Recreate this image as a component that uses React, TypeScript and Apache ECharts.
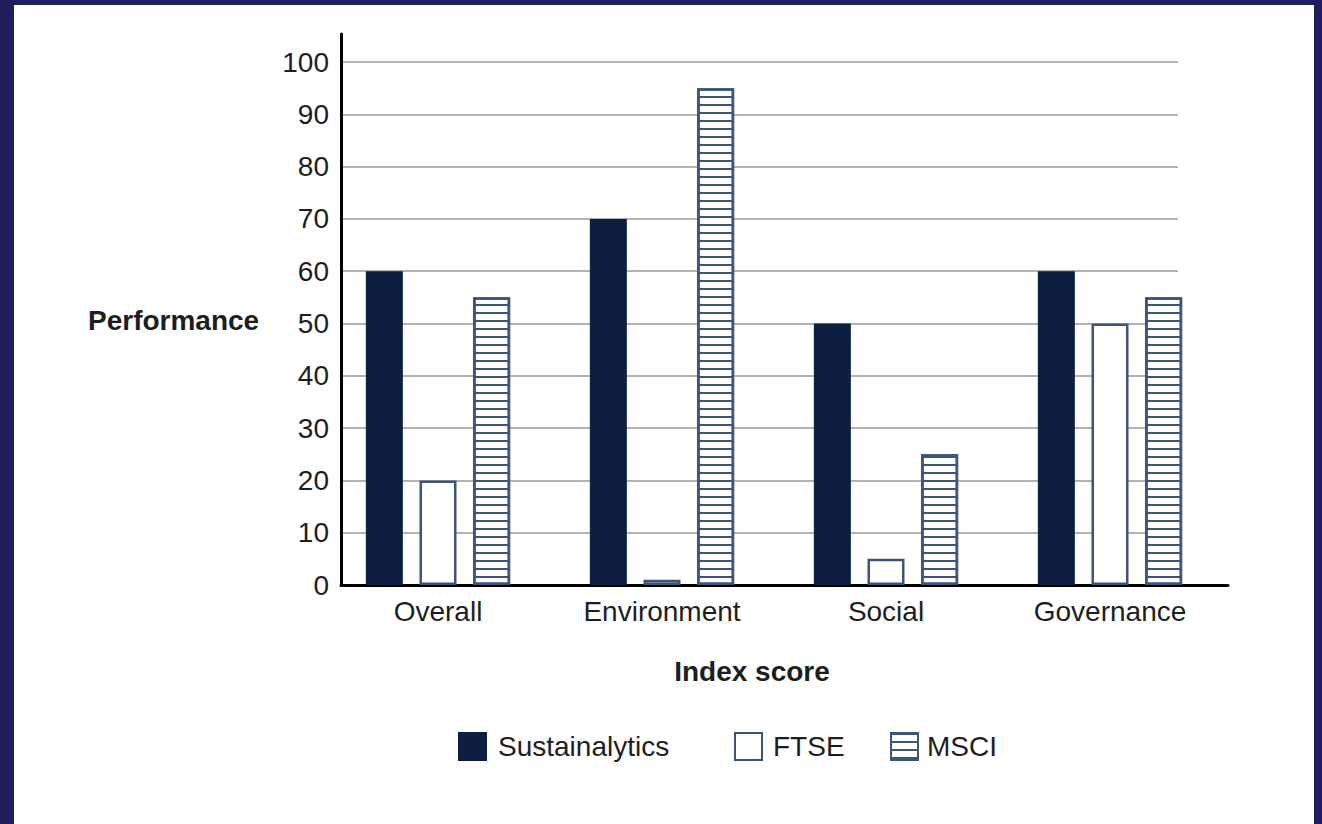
import React, { useEffect, useRef } from "react";
import * as echarts from "echarts";

const categories = ["Overall", "Environment", "Social", "Governance"];
const sustainalytics = [60, 70, 50, 60];
const ftse = [20, 1, 5, 50];
const msci = [55, 95, 25, 55];
const yMin = 0;
const yMax = 100;
const yInterval = 10;

const FONT = "'Liberation Sans', Arial, Helvetica, sans-serif";
const DARK = "#0c1e42";
const LINE = "#3c5478";
const TEXT = "#1e1e1e";

export default function App() {
  const ref = useRef<HTMLDivElement>(null);
  useEffect(() => {
    if (!ref.current) return;
    const chart = echarts.init(ref.current, undefined, { renderer: "svg" });
    const option: any = {
      animation: false,
      textStyle: { fontFamily: FONT },
      grid: [
        { left: 326, top: 62, width: 896, height: 523 },
        { left: 341, top: 34, width: 887, height: 551 },
        { left: 341, top: 62, width: 837, height: 523 },
      ],
      xAxis: [
        {
          type: "category",
          gridIndex: 0,
          data: categories,
          axisLine: { show: false },
          axisTick: { show: false },
          axisLabel: { fontSize: 28, color: TEXT, margin: 12, fontFamily: FONT },
        },
        {
          type: "value",
          gridIndex: 1,
          min: 0,
          max: 1,
          axisLine: { show: true, onZero: false, lineStyle: { color: "#000", width: 3 } },
          axisTick: { show: false },
          axisLabel: { show: false },
          splitLine: { show: false },
        },
        {
          type: "value",
          gridIndex: 2,
          show: false,
        },
      ],
      yAxis: [
        { type: "value", gridIndex: 0, min: yMin, max: yMax, interval: yInterval, show: false },
        {
          type: "value",
          gridIndex: 1,
          min: 0,
          max: 1,
          axisLine: { show: true, onZero: false, lineStyle: { color: "#000", width: 3 } },
          axisTick: { show: false },
          axisLabel: { show: false },
          splitLine: { show: false },
        },
        {
          type: "value",
          gridIndex: 2,
          min: yMin,
          max: yMax,
          interval: yInterval,
          axisLine: { show: false },
          axisTick: { show: false },
          axisLabel: { fontSize: 28, color: TEXT, margin: 12, fontFamily: FONT },
          splitLine: { show: true, lineStyle: { color: "#b3b3b3", width: 2 } },
        },
      ],
      legend: [
        {
          data: ["Sustainalytics"],
          left: 458,
          top: 732,
          padding: 0,
          icon: "rect",
          itemWidth: 29,
          itemHeight: 29,
          textStyle: { fontSize: 28, color: TEXT, fontFamily: FONT, padding: [0, 0, 0, 6] },
        },
        {
          data: ["FTSE"],
          left: 734,
          top: 732,
          padding: 0,
          icon: "rect",
          itemWidth: 27,
          itemHeight: 27,
          textStyle: { fontSize: 28, color: TEXT, fontFamily: FONT, padding: [0, 0, 0, 6] },
        },
        {
          data: ["MSCI"],
          left: 890,
          top: 732,
          padding: 0,
          icon: "rect",
          itemWidth: 27,
          itemHeight: 27,
          textStyle: { fontSize: 28, color: TEXT, fontFamily: FONT, padding: [0, 0, 0, 4] },
        },
      ],
      graphic: [
        {
          type: "text",
          left: 88,
          top: 306,
          style: { text: "Performance", fontSize: 28, fontWeight: "bold", fill: TEXT, fontFamily: FONT },
        },
        {
          type: "text",
          x: 752,
          y: 671,
          style: {
            text: "Index score",
            fontSize: 28,
            fontWeight: "bold",
            fill: TEXT,
            fontFamily: FONT,
            align: "center",
            verticalAlign: "middle",
          },
        },
      ],
      series: [
        {
          name: "Sustainalytics",
          type: "bar",
          xAxisIndex: 0,
          yAxisIndex: 0,
          data: sustainalytics,
          barWidth: 37,
          barGap: "45%",
          itemStyle: { color: DARK },
        },
        {
          name: "FTSE",
          type: "bar",
          xAxisIndex: 0,
          yAxisIndex: 0,
          data: ftse,
          barWidth: 37,
          barGap: "45%",
          itemStyle: { color: "#ffffff", borderColor: LINE, borderWidth: 2.5 },
        },
        {
          name: "MSCI",
          type: "bar",
          xAxisIndex: 0,
          yAxisIndex: 0,
          data: msci,
          barWidth: 37,
          barGap: "45%",
          itemStyle: {
            color: "#ffffff",
            borderColor: LINE,
            borderWidth: 2.5,
            decal: {
              symbol: "rect",
              symbolSize: 1,
              dashArrayX: [20, 0],
              dashArrayY: [2, 6],
              rotation: 0,
              color: LINE,
            },
          },
        },
      ],
    };
    chart.setOption(option);
    return () => chart.dispose();
  }, []);

  return (
    <div style={{ position: "fixed", left: 0, top: 0, width: 1322, height: 824, background: "#201d5f" }}>
      <div style={{ position: "absolute", left: 14, top: 5, width: 1300, height: 819, background: "#ffffff" }} />
      <div ref={ref} style={{ position: "absolute", left: 0, top: 0, width: 1322, height: 824 }} />
    </div>
  );
}
